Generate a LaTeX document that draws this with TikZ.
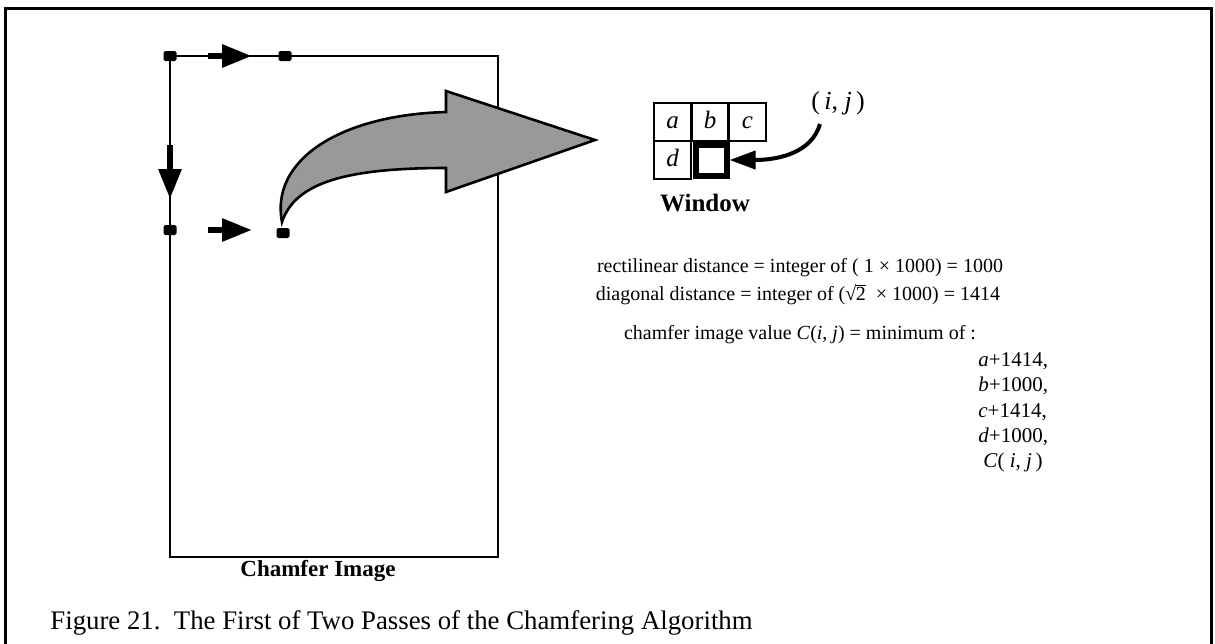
\documentclass[tikz,border=0pt]{standalone}
\usepackage{fontspec}
\setmainfont{Liberation Serif}
\usetikzlibrary{arrows.meta}
\newcommand{\rootTwo}{√\kern-0.02em\rlap{\rule[0.72em]{0.52em}{0.05em}}2}
\begin{document}
\begin{tikzpicture}[x=0.5pt,y=-0.5pt,
  frame/.style={line width=1.5pt},
  sq/.style={fill=black, rounded corners=0.8pt, minimum width=6.5pt, minimum height=5pt, inner sep=0pt},
  bigarr/.style={line width=3pt, -{Triangle[length=15pt,width=11pt]}},
  cell/.style={draw, line width=1.2pt, minimum width=18.5pt, minimum height=19pt, inner sep=0pt, text height=8pt, text depth=1.5pt, font=\fontsize{12.5}{14}\selectfont\itshape},
  body/.style={inner sep=0pt, font=\fontsize{10}{12}\selectfont},
  lbl/.style={inner sep=0pt, font=\fontsize{11.5}{14}\selectfont\bfseries},
  item/.style={inner sep=0pt, anchor=west, font=\fontsize{10.5}{12}\selectfont}]
\useasboundingbox (0,0) rectangle (1215,643);
% outer frame
\draw[frame] (5,660) -- (5,8) -- (1211,8) -- (1211,660);
% chamfer image
\node (img) [draw, line width=1.4pt, minimum width=164pt, minimum height=250.5pt, inner sep=0pt] at (334,306.5) {};
\node (s1) [sq] at (170,56) {};
\node (s2) [sq] at (285,56) {};
\node (s3) [sq] at (170,230) {};
\node (s4) [sq] at (283,233) {};
\coordinate (t1) at (208,56);
\coordinate (t2) at (252,56);
\coordinate (v1) at (170,145);
\coordinate (v2) at (170,199);
\coordinate (b1) at (208,230);
\coordinate (b2) at (252,230);
\draw[bigarr] (t1) -- (t2);
\draw[bigarr] (v1) -- (v2);
\draw[bigarr] (b1) -- (b2);
% big curved arrow
\draw[line width=1.3pt, fill=black!40] (282,222) .. controls (270,160) and (340,115) .. (446,112) -- (446,91) -- (595,140) -- (446,192) -- (446,168) .. controls (345,168) and (295,183) .. (282,222) -- cycle;
\node (cham) [lbl] at (318,571) {Chamfer Image};
% window
\node (ca) [cell] at (672.5,122) {a};
\node (cb) [cell] at (710,122) {b};
\node (cc) [cell] at (747.5,122) {c};
\node (cd) [cell] at (672.5,160) {d};
\node (ce) [draw, line width=3pt, minimum width=15.5pt, minimum height=15.5pt, inner sep=0pt] at (711,160) {};
\node (win) [lbl, font=\fontsize{12.5}{14}\selectfont\bfseries] at (705,203) {Window};
\node (ij) [inner sep=0pt, font=\fontsize{13}{15}\selectfont] at (838,103) {(\,\textit{i}, \textit{j}\,)};
\coordinate (ijs) at (820,124);
\draw[line width=2pt, -{Triangle[length=13pt,width=9pt]}] (ijs) .. controls (812,152) and (780,160) .. (ce.east);
% formulas
\node (l1) [body] at (800,268) {rectilinear distance = integer of ( 1 × 1000) = 1000};
\node (l2) [body] at (798,295) {diagonal distance = integer of (\rootTwo\ \ × 1000) = 1414};
\node (l3) [body] at (800,335) {chamfer image value \textit{C}(\textit{i}, \textit{j}) = minimum of :};
\node (m1) [item] at (978,361) {\textit{a}+1414,};
\node (m2) [item] at (978,386) {\textit{b}+1000,};
\node (m3) [item] at (978,412) {\textit{c}+1414,};
\node (m4) [item] at (978,437) {\textit{d}+1000,};
\node (m5) [item] at (983,462) {\textit{C}( \textit{i}, \textit{j}\,)};
% caption
\node (cap) [inner sep=0pt, anchor=west, font=\fontsize{13.4}{16}\selectfont] at (50,623) {Figure 21.\ \ The First of Two Passes of the Chamfering Algorithm};
\end{tikzpicture}
\end{document}
